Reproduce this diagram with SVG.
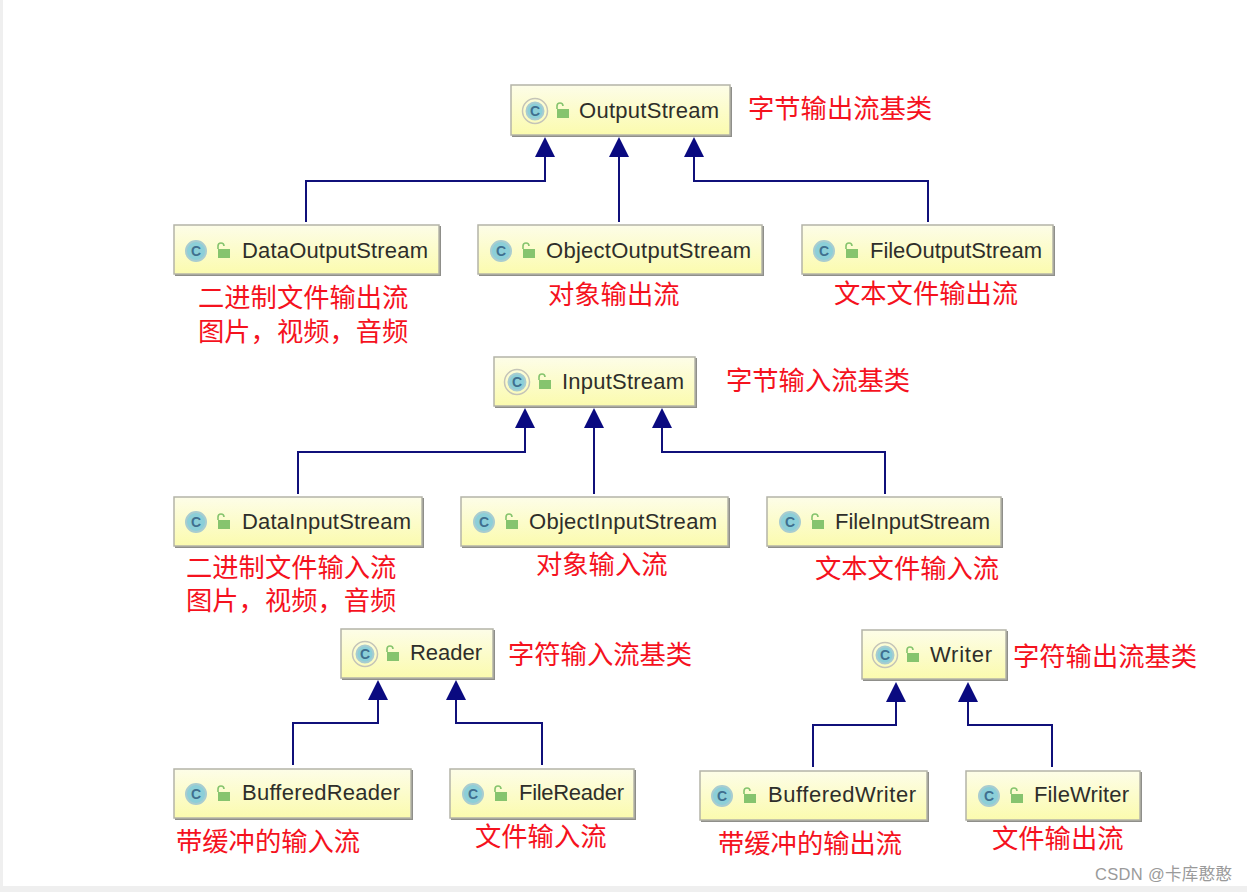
<svg xmlns="http://www.w3.org/2000/svg" xmlns:xlink="http://www.w3.org/1999/xlink" width="1247" height="892" viewBox="0 0 1247 892">
<style>
.box{fill:url(#y);stroke:#b4b4a8;stroke-width:1.5}
.sh{fill:#8f8f8a}
.name{font-family:"Liberation Sans",Arial,sans-serif;font-size:22px;fill:#2e2e2a}
.cn{font-family:"Noto Sans CJK SC","Liberation Sans",sans-serif;font-size:26.300px;fill:#f5121e}
.ci{fill:#8ccfd8;stroke:#a8ccd0;stroke-width:2}
.cl{font-family:"Liberation Sans",Arial,sans-serif;font-size:14px;font-weight:bold;fill:#3f6f8f;text-anchor:middle}
.lk{fill:#86c46e}
.lks{fill:none;stroke:#86c46e;stroke-width:1.6}
.ln{fill:none;stroke:#10107a;stroke-width:2}
.ah{fill:#0a0a80}
</style>
<defs>
<linearGradient id="y" x1="0" y1="0" x2="0" y2="1"><stop offset="0" stop-color="#fdfde8"/><stop offset="1" stop-color="#fbfbae"/></linearGradient>
<g id="ic"><circle class="ci" cx="0" cy="0" r="10"/><text class="cl" x="0" y="5">C</text><rect class="lk" x="22" y="-2" width="12" height="9"/><path class="lks" d="M22 -2v-3a3 3 0 0 1 6 0"/></g>
<g id="ic2"><circle cx="0" cy="0" r="12.500" fill="none" stroke="#c4c4b8" stroke-width="1.500"/><circle class="ci" cx="0" cy="0" r="8.500"/><text class="cl" x="0" y="5">C</text><rect class="lk" x="22" y="-2" width="12" height="9"/><path class="lks" d="M22 -2v-3a3 3 0 0 1 6 0"/></g>
<path id="tri" class="ah" d="M0 0l10 20h-20z"/>
</defs>
<rect width="1247" height="892" fill="#fff"/>
<rect x="0" y="0" width="3" height="892" fill="#efefef"/>
<rect x="0" y="886" width="1247" height="6" fill="#efefef"/>
<g id="connectors">
<path class="ln" d="M306 222V181H545V155M619 222V155M928 222V181H694V155"/>
<use xlink:href="#tri" x="545" y="137"/><use xlink:href="#tri" x="619" y="137"/><use xlink:href="#tri" x="694" y="137"/>
<path class="ln" d="M298 494V452H525V426M594 494V426M885 494V452H662V426"/>
<use xlink:href="#tri" x="525" y="408"/><use xlink:href="#tri" x="594" y="408"/><use xlink:href="#tri" x="662" y="408"/>
<path class="ln" d="M293 765V723H378V698M542 765V723H456V698"/>
<use xlink:href="#tri" x="378" y="680"/><use xlink:href="#tri" x="456" y="680"/>
<path class="ln" d="M813 767V725H896V701M1052 767V725H968V701"/>
<use xlink:href="#tri" x="896" y="682"/><use xlink:href="#tri" x="968" y="682"/>
</g>
<g id="OutputStream"><rect class="sh" x="512" y="87" width="220" height="50"/><rect class="box" x="511" y="85" width="219" height="50"/><use xlink:href="#ic2" x="535" y="111"/><text class="name" x="579" y="118" textLength="140">OutputStream</text></g>
<g id="DataOutputStream"><rect class="sh" x="175" y="226" width="266" height="50"/><rect class="box" x="174" y="225" width="265" height="49"/><use xlink:href="#ic" x="196" y="251"/><text class="name" x="242" y="258" textLength="186">DataOutputStream</text></g>
<g id="ObjectOutputStream"><rect class="sh" x="479" y="226" width="285" height="50"/><rect class="box" x="478" y="225" width="284" height="49"/><use xlink:href="#ic" x="501" y="251"/><text class="name" x="546" y="258" textLength="205">ObjectOutputStream</text></g>
<g id="FileOutputStream"><rect class="sh" x="803" y="226" width="252" height="50"/><rect class="box" x="802" y="225" width="251" height="49"/><use xlink:href="#ic" x="824" y="251"/><text class="name" x="870" y="258" textLength="172">FileOutputStream</text></g>
<g id="InputStream"><rect class="sh" x="495" y="358" width="202" height="50"/><rect class="box" x="494" y="357" width="201" height="49"/><use xlink:href="#ic2" x="517" y="382"/><text class="name" x="562" y="389" textLength="122">InputStream</text></g>
<g id="DataInputStream"><rect class="sh" x="175" y="498" width="249" height="50"/><rect class="box" x="174" y="497" width="248" height="49"/><use xlink:href="#ic" x="196" y="522"/><text class="name" x="242" y="529" textLength="169">DataInputStream</text></g>
<g id="ObjectInputStream"><rect class="sh" x="462" y="498" width="268" height="50"/><rect class="box" x="461" y="497" width="267" height="49"/><use xlink:href="#ic" x="484" y="522"/><text class="name" x="529" y="529" textLength="188">ObjectInputStream</text></g>
<g id="FileInputStream"><rect class="sh" x="768" y="498" width="235" height="50"/><rect class="box" x="767" y="497" width="234" height="49"/><use xlink:href="#ic" x="790" y="522"/><text class="name" x="835" y="529" textLength="155">FileInputStream</text></g>
<g id="Reader"><rect class="sh" x="342" y="630" width="153" height="50"/><rect class="box" x="341" y="629" width="152" height="49"/><use xlink:href="#ic2" x="365" y="654"/><text class="name" x="410" y="660" textLength="72">Reader</text></g>
<g id="BufferedReader"><rect class="sh" x="175" y="770" width="238" height="50"/><rect class="box" x="174" y="769" width="237" height="49"/><use xlink:href="#ic" x="196" y="794"/><text class="name" x="242" y="800" textLength="158">BufferedReader</text></g>
<g id="FileReader"><rect class="sh" x="451" y="770" width="185" height="50"/><rect class="box" x="450" y="769" width="184" height="49"/><use xlink:href="#ic" x="473" y="794"/><text class="name" x="519" y="800" textLength="105">FileReader</text></g>
<g id="Writer"><rect class="sh" x="863" y="631" width="145" height="50"/><rect class="box" x="862" y="630" width="144" height="49"/><use xlink:href="#ic2" x="885" y="655"/><text class="name" x="930" y="662" textLength="62">Writer</text></g>
<g id="BufferedWriter"><rect class="sh" x="701" y="772" width="228" height="50"/><rect class="box" x="700" y="771" width="227" height="49"/><use xlink:href="#ic" x="722" y="796"/><text class="name" x="768" y="802" textLength="148">BufferedWriter</text></g>
<g id="FileWriter"><rect class="sh" x="967" y="772" width="175" height="50"/><rect class="box" x="966" y="771" width="174" height="49"/><use xlink:href="#ic" x="989" y="796"/><text class="name" x="1034" y="802" textLength="95">FileWriter</text></g>
<g id="labels">
<text class="cn" x="748" y="118">字节输出流基类</text>
<text class="cn" x="198" y="307">二进制文件输出流</text>
<text class="cn" x="198" y="341">图片，视频，音频</text>
<text class="cn" x="548" y="304">对象输出流</text>
<text class="cn" x="834" y="303">文本文件输出流</text>
<text class="cn" x="726" y="390">字节输入流基类</text>
<text class="cn" x="186" y="577">二进制文件输入流</text>
<text class="cn" x="186" y="610">图片，视频，音频</text>
<text class="cn" x="536" y="574">对象输入流</text>
<text class="cn" x="815" y="578">文本文件输入流</text>
<text class="cn" x="508" y="664">字符输入流基类</text>
<text class="cn" x="1013" y="666">字符输出流基类</text>
<text class="cn" x="176" y="851">带缓冲的输入流</text>
<text class="cn" x="475" y="846">文件输入流</text>
<text class="cn" x="718" y="853">带缓冲的输出流</text>
<text class="cn" x="992" y="848">文件输出流</text>
</g>
<text x="1095" y="880" font-family="'Liberation Sans','Noto Sans CJK SC',sans-serif" font-size="16.500" fill="#9a9a9a" textLength="137">CSDN @卡库憨憨</text>
</svg>
